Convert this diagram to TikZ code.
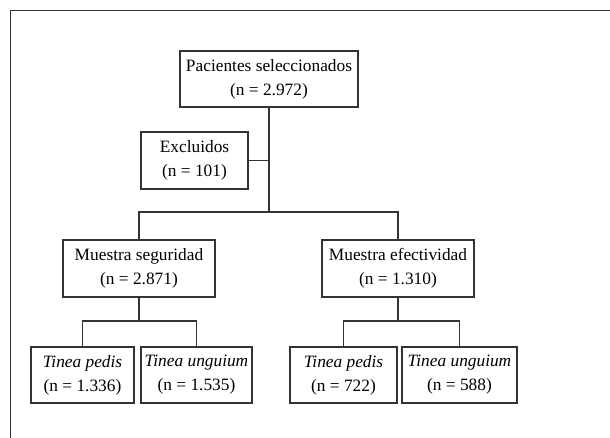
\documentclass[tikz,border=0pt]{standalone}
\usepackage{fontspec}
\setmainfont{Liberation Serif}
\begin{document}
\begin{tikzpicture}
  [x=0.6pt,y=-0.6pt,
   every node/.style={draw=black!80,line width=0.9pt,inner sep=0pt,align=center,
     font=\fontsize{10.4}{14.4}\selectfont},
   link/.style={draw=black!80,line width=0.9pt}]
  \useasboundingbox (0,0) rectangle (610,438);
  \draw[link,line width=1.1pt] (610,10.5) -- (10.5,10.5) -- (10.5,438);

  \node[minimum width=106.8pt,minimum height=33.6pt] (pac) at (269,79) {Pacientes seleccionados\\(n = 2.972)};
  \node[minimum width=64.2pt,minimum height=34.2pt] (exc) at (194.5,160.5) {Excluidos\\(n = 101)};
  \node[minimum width=91.2pt,minimum height=34.2pt] (seg) at (139,268.5) {Muestra seguridad\\(n = 2.871)};
  \node[minimum width=91.2pt,minimum height=34.2pt] (efe) at (398,268.5) {Muestra efectividad\\(n = 1.310)};
  \node[minimum width=61.8pt,minimum height=33.6pt] (tp1) at (82.5,375) {\textit{Tinea pedis}\\(n = 1.336)};
  \node[minimum width=66.6pt,minimum height=33.6pt] (tu1) at (196.5,375) {\textit{Tinea unguium}\\(n = 1.535)};
  \node[minimum width=64.2pt,minimum height=33.6pt] (tp2) at (343.5,375) {\textit{Tinea pedis}\\(n = 722)};
  \node[minimum width=69pt,minimum height=33.6pt] (tu2) at (459.5,375) {\textit{Tinea unguium}\\(n = 588)};

  \coordinate (j1) at (269,212);
  \coordinate (j2) at (139,321);
  \coordinate (j3) at (398,321);

  \foreach \from/\to in {pac/j1,seg/j2,efe/j3}
    \draw[link] (\from) -- (\to);
  \draw[link] (exc) -- (exc -| j1);
  \foreach \left/\mid/\right in {seg/j1/efe,tp1/j2/tu1,tp2/j3/tu2}
    \draw[link] (\left) |- (\mid) -| (\right);

\end{tikzpicture}
\end{document}
